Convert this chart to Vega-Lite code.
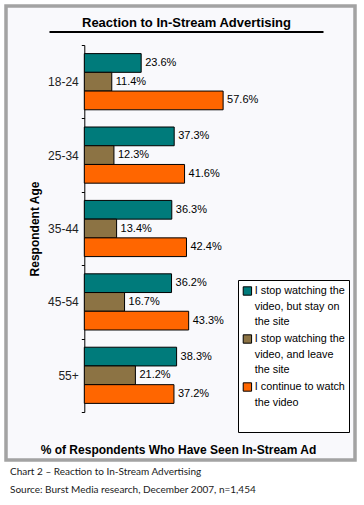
{
  "$schema": "https://vega.github.io/schema/vega-lite/v6.json",
  "autosize": {"type": "none"},
  "width": 349,
  "height": 454,
  "padding": {"left": 6, "top": 6, "right": 9, "bottom": 45},
  "background": "white",
  "title": {
    "text": ["Chart 2 – Reaction to In-Stream Advertising", "Source: Burst Media research, December 2007, n=1,454"],
    "orient": "bottom",
    "anchor": "start",
    "frame": "group",
    "dx": 4,
    "offset": 7,
    "font": "Lato",
    "fontSize": 10,
    "fontWeight": "normal",
    "lineHeight": 18,
    "color": "#1a1a1a"
  },
  "config": {
    "view": {"fill": "#f9f9fc", "stroke": "#a3a3a3", "strokeWidth": 3.5},
    "font": "Liberation Sans"
  },
  "data": {
    "values": [
      {"age": "18-24", "reaction": "I stop watching the video, but stay on the site", "share": 0.236},
      {"age": "18-24", "reaction": "I stop watching the video, and leave the site", "share": 0.114},
      {"age": "18-24", "reaction": "I continue to watch the video", "share": 0.576},
      {"age": "25-34", "reaction": "I stop watching the video, but stay on the site", "share": 0.373},
      {"age": "25-34", "reaction": "I stop watching the video, and leave the site", "share": 0.123},
      {"age": "25-34", "reaction": "I continue to watch the video", "share": 0.416},
      {"age": "35-44", "reaction": "I stop watching the video, but stay on the site", "share": 0.363},
      {"age": "35-44", "reaction": "I stop watching the video, and leave the site", "share": 0.134},
      {"age": "35-44", "reaction": "I continue to watch the video", "share": 0.424},
      {"age": "45-54", "reaction": "I stop watching the video, but stay on the site", "share": 0.362},
      {"age": "45-54", "reaction": "I stop watching the video, and leave the site", "share": 0.167},
      {"age": "45-54", "reaction": "I continue to watch the video", "share": 0.433},
      {"age": "55+", "reaction": "I stop watching the video, but stay on the site", "share": 0.383},
      {"age": "55+", "reaction": "I stop watching the video, and leave the site", "share": 0.212},
      {"age": "55+", "reaction": "I continue to watch the video", "share": 0.372}
    ]
  },
  "encoding": {
    "y": {
      "field": "age",
      "type": "nominal",
      "sort": null,
      "scale": {"range": [39, 406], "paddingInner": 0, "paddingOuter": 0},
      "axis": {
        "title": "Respondent Age",
        "orient": "left",
        "offset": -78.3,
        "domainColor": "black",
        "domainWidth": 1,
        "tickBand": "extent",
        "tickColor": "black",
        "tickSize": 3,
        "labelPadding": 3,
        "labelFont": "Liberation Sans",
        "labelFontSize": 12,
        "labelColor": "#222222",
        "titleFont": "Liberation Sans",
        "titleFontSize": 12,
        "titleFontWeight": "bold",
        "titleColor": "black",
        "titlePadding": 6
      }
    },
    "yOffset": {
      "field": "reaction",
      "type": "nominal",
      "sort": null,
      "scale": {"paddingInner": 0, "paddingOuter": 0.46}
    }
  },
  "layer": [
    {
      "mark": {"type": "bar", "stroke": "black", "strokeWidth": 1},
      "encoding": {
        "x": {
          "field": "share",
          "type": "quantitative",
          "scale": {"domain": [-0.3249, 1.1232], "nice": false, "zero": false},
          "axis": {
            "orient": "bottom",
            "offset": -16,
            "domain": false,
            "ticks": false,
            "labels": false,
            "grid": false,
            "title": "% of Respondents Who Have Seen In-Stream Ad",
            "titleFont": "Liberation Sans",
            "titleFontSize": 12,
            "titleFontWeight": "bold",
            "titleColor": "black",
            "titlePadding": 0,
            "titleX": 172
          }
        },
        "color": {
          "field": "reaction",
          "type": "nominal",
          "scale": {
            "domain": ["I stop watching the video, but stay on the site", "I stop watching the video, and leave the site", "I continue to watch the video"],
            "range": ["#007b7b", "#8c7344", "#ff6600"]
          },
          "legend": {
            "orient": "none",
            "legendX": 232,
            "legendY": 274,
            "title": null,
            "fillColor": "white",
            "strokeColor": "black",
            "padding": 4,
            "clipHeight": 48,
            "symbolType": "square",
            "symbolSize": 70,
            "symbolStrokeColor": "black",
            "symbolStrokeWidth": 1,
            "symbolOpacity": 1,
            "labelFont": "Liberation Sans",
            "labelFontSize": 10.8,
            "labelColor": "black",
            "labelLimit": 200,
            "labelOffset": 2,
            "labelBaseline": "top",
            "rowPadding": 0,
            "labelExpr": "datum.label === 'I stop watching the video, but stay on the site' ? ['I stop watching the', 'video, but stay on', 'the site'] : datum.label === 'I stop watching the video, and leave the site' ? ['I stop watching the', 'video, and leave', 'the site'] : ['I continue to watch', 'the video']",
            "encode": {
              "labels": {"update": {"lineHeight": {"value": 15.5}, "y": {"value": 1}}},
              "symbols": {"update": {"y": {"value": 7}}}
            }
          }
        }
      }
    },
    {
      "mark": {"type": "text", "align": "left", "baseline": "middle", "dx": 4, "fontSize": 11, "font": "Liberation Sans", "color": "black"},
      "encoding": {
        "x": {
          "field": "share",
          "type": "quantitative",
          "scale": {"domain": [-0.1465, 0.9905], "range": [43, 317], "nice": false, "zero": false},
          "axis": {
            "orient": "top",
            "offset": -25.5,
            "domain": true,
            "domainColor": "black",
            "domainWidth": 2,
            "ticks": false,
            "labels": false,
            "grid": false,
            "title": "Reaction to In-Stream Advertising",
            "titleFont": "Liberation Sans",
            "titleFontSize": 13,
            "titleFontWeight": "bold",
            "titleColor": "black",
            "titlePadding": 2
          }
        },
        "text": {"field": "share", "type": "quantitative", "format": ".1%"}
      }
    }
  ],
  "resolve": {"scale": {"x": "independent"}, "axis": {"x": "independent"}}
}
